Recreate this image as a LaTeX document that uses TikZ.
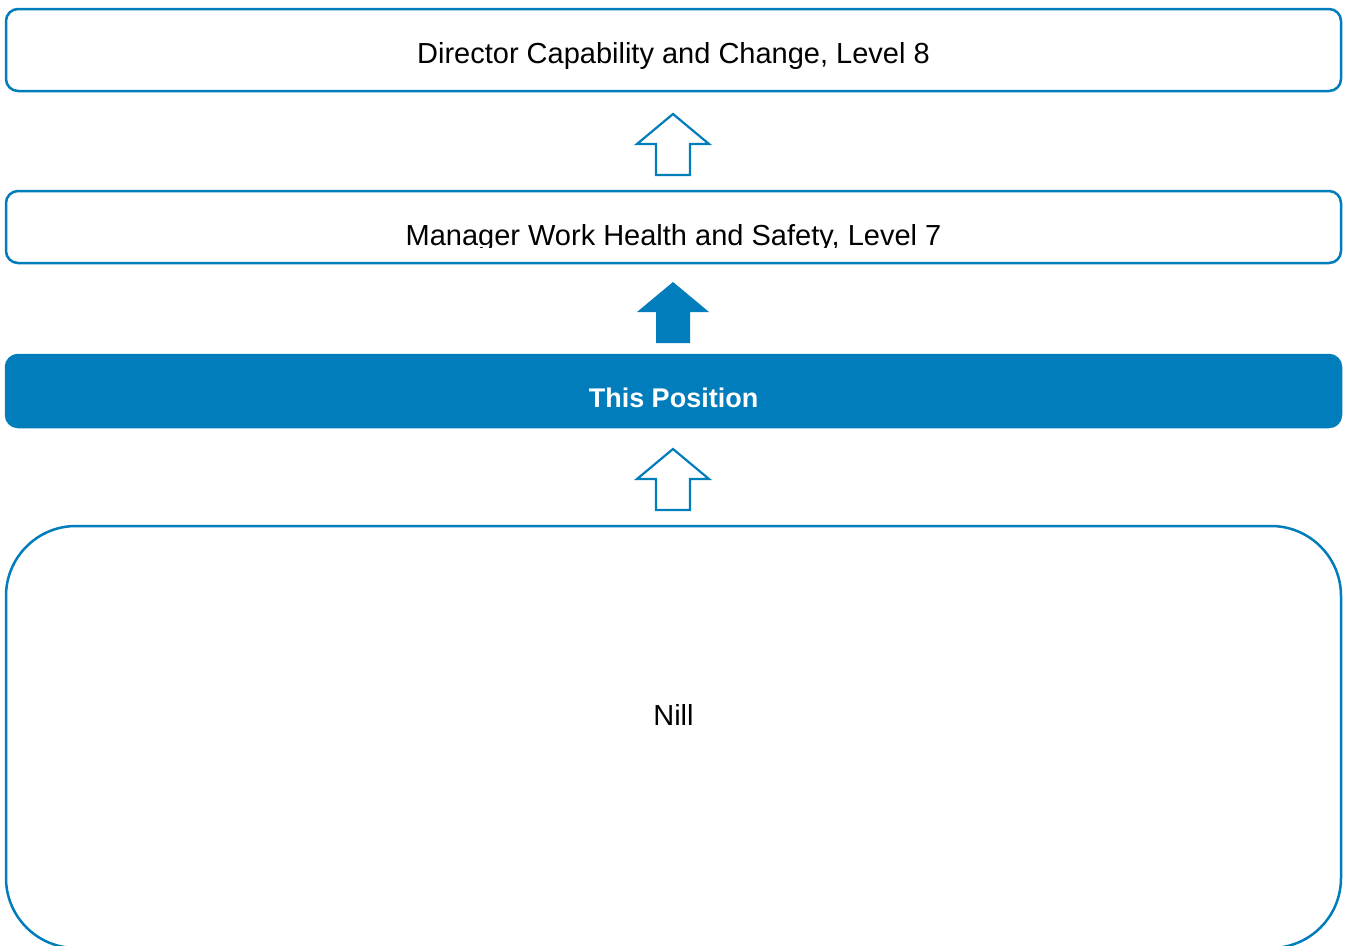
\documentclass[tikz,border=0pt]{standalone}
\usepackage{fontspec}
\setmainfont{Liberation Sans}
\definecolor{sectorblue}{RGB}{0,125,186}
\tikzset{
  % block arrow pointing up, tip at the pic origin
  uparrow/.pic={\path[pic actions] (0,0) -- (36,30) -- (17,30) -- (17,61) -- (-17,61) -- (-17,30) -- (-36,30) -- cycle;}
}
\begin{document}
\begin{tikzpicture}[x=1pt,y=-1pt,
  posbox/.style={draw=sectorblue,line width=2.5pt,rounded corners=12pt,minimum width=1335pt},
  postext/.style={anchor=base,font=\fontsize{29}{34}\selectfont}]
\useasboundingbox (0,0) rectangle (1349,945);
\node[posbox,minimum height=82pt] (director) at (673.5,50) {};
\node[posbox,minimum height=72pt] (manager) at (673.5,227) {};
\node[posbox,fill=sectorblue,minimum height=72pt] (position) at (673.5,391) {};
\node[posbox,rounded corners=70pt,minimum height=422pt] (reports) at (673.5,737) {};
\node[postext] (directortext) at (673.5,63) {Director Capability and Change, Level 8};
% text line is cut just under the baseline
\begin{scope}
  \clip (0,191) rectangle (1349,247);
  \node[postext] (managertext) at (673.5,245) {Manager Work Health and Safety, Level 7};
\end{scope}
\node[postext,text=white,font=\fontsize{27}{32}\selectfont\bfseries] (positiontext) at (673.5,407) {This Position};
\node[postext] (reportstext) at (673.5,725) {Nill};
\pic[draw=sectorblue,line width=2.2pt] at (673,114) {uparrow};
\pic[fill=sectorblue] at (673,282) {uparrow};
\pic[draw=sectorblue,line width=2.2pt] at (673,449) {uparrow};
\end{tikzpicture}
\end{document}
